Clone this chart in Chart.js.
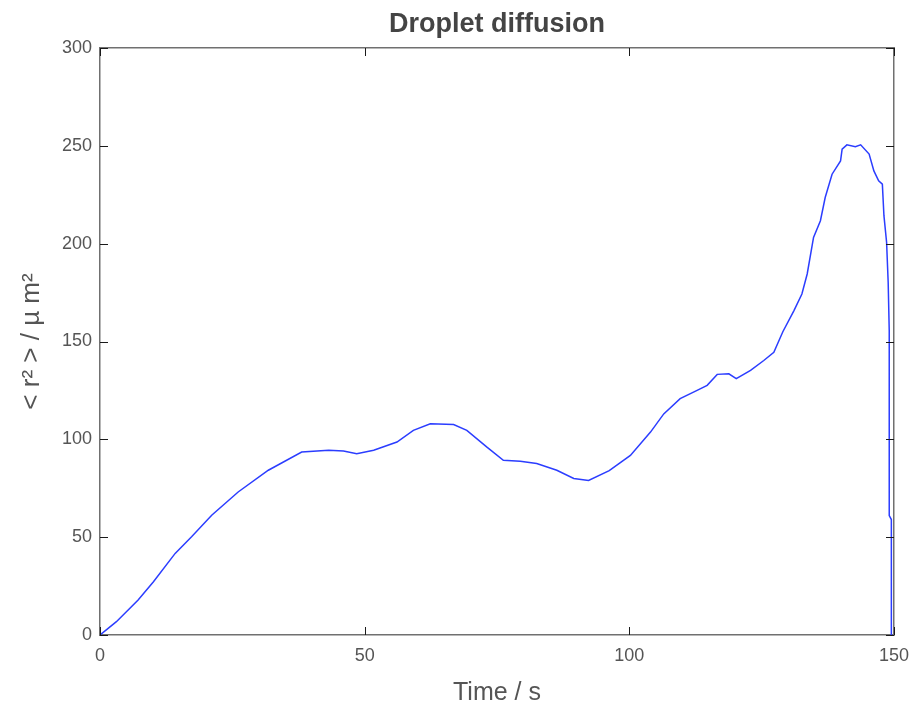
<!DOCTYPE html>
<html>
<head>
<meta charset="utf-8">
<script src="https://cdn.jsdelivr.net/npm/chart.js@4.4.1/dist/chart.umd.min.js"></script>
<style>
  html, body { margin: 0; padding: 0; background: #fff; }
  #wrap { width: 913px; height: 706px; }
</style>
</head>
<body>
<div id="wrap"><canvas id="mainChart" width="913" height="706"></canvas></div>
<script>
// tiempo (s) y desplazamiento cuadratico medio (um^2)
const tiempo = [0, 3.1, 7.2, 10.1, 14.2, 17.3, 21.1, 26.1, 31.8, 38.1, 43.2, 46.0, 48.5, 51.7,
  56.1, 59.2, 62.4, 66.8, 69.3, 73.1, 76.2, 79.4, 82.5, 86.3, 89.5, 92.3, 96.2, 100.2,
  104.0, 106.5, 109.6, 112.8, 114.7, 116.6, 118.8, 120.2, 122.9, 125.4, 127.3, 129.0,
  131.1, 132.6, 133.6, 134.8, 136.1, 137.0, 138.3, 139.9, 140.2, 141.1, 142.7, 143.7,
  145.3, 146.2, 147.1, 147.8, 148.1, 148.6, 148.9, 149.1, 149.1, 149.5, 149.5];
const msd = [0, 6.8, 17.9, 27.2, 41.7, 50.2, 61.2, 73.1, 84.2, 93.5, 94.4, 94.0, 92.7, 94.4,
  98.6, 104.6, 108.0, 107.6, 104.6, 96.0, 89.3, 88.8, 87.6, 84.2, 80.0, 79.0, 84.0, 91.8,
  103.7, 113.0, 120.8, 125.0, 127.6, 133.2, 133.5, 131.0, 135.2, 140.3, 144.5, 155.0,
  165.8, 174.3, 184.5, 203.2, 211.7, 223.6, 235.5, 242.3, 248.3, 250.5, 249.5, 250.5,
  245.8, 237.2, 232.1, 230.4, 214.3, 200.7, 180.3, 155.6, 61, 59, 0];
const xTicks = [0, 50, 100, 150];
const yTicks = [0, 50, 100, 150, 200, 250, 300];

const fuente = "'Liberation Sans', Arial, Helvetica, sans-serif";
const marco = { display: true, color: '#707070', width: 1.5 };
const sinRejilla = { drawOnChartArea: false, drawTicks: false };

// marcas hacia adentro en los cuatro lados, estilo MATLAB
const marcasInternas = {
  id: 'marcasInternas',
  afterDatasetsDraw(chart) {
    const { ctx, chartArea: a, scales } = chart;
    ctx.save();
    ctx.strokeStyle = '#1a1a1a';
    ctx.lineWidth = 1;
    ctx.beginPath();
    xTicks.forEach(v => {
      const px = Math.round(scales.x.getPixelForValue(v)) + 0.5;
      ctx.moveTo(px, a.bottom); ctx.lineTo(px, a.bottom - 8);
      ctx.moveTo(px, a.top); ctx.lineTo(px, a.top + 8);
    });
    yTicks.forEach(v => {
      const py = Math.round(scales.y.getPixelForValue(v)) + 0.5;
      ctx.moveTo(a.left, py); ctx.lineTo(a.left + 8, py);
      ctx.moveTo(a.right, py); ctx.lineTo(a.right - 8, py);
    });
    ctx.stroke();
    ctx.restore();
  }
};

const puntos = tiempo.map((t, i) => ({ x: t, y: msd[i] }));

new Chart(document.getElementById('mainChart').getContext('2d'), {
  type: 'line',
  data: {
    datasets: [{
      data: puntos,
      borderColor: '#2b3dff',
      borderWidth: 1.5,
      pointRadius: 0,
      tension: 0,
      fill: false
    }]
  },
  options: {
    responsive: false,
    animation: false,
    layout: { padding: { left: 12, right: 19, top: 0, bottom: 0 } },
    plugins: { legend: { display: false }, tooltip: { enabled: false } },
    scales: {
      x: {
        type: 'linear', position: 'bottom', min: 0, max: 150,
        afterBuildTicks: s => { s.ticks = xTicks.map(v => ({ value: v })); },
        afterFit: s => { s.height = 71; s.paddingLeft = 0; s.paddingRight = 0; },
        grid: sinRejilla, border: marco,
        ticks: { padding: 10, color: '#555', font: { family: fuente, size: 18 } },
        title: { display: true, text: 'Time / s', color: '#555', padding: 0,
                 font: { family: fuente, size: 25, lineHeight: 1 } }
      },
      x2: {
        type: 'linear', position: 'top', min: 0, max: 150,
        afterFit: s => { s.height = 48; s.paddingLeft = 0; s.paddingRight = 0; },
        grid: sinRejilla, border: marco,
        ticks: { display: false },
        title: { display: true, text: 'Droplet diffusion', color: '#444', padding: { top: 8, bottom: 0 },
                 font: { family: fuente, size: 27, weight: 'bold' } }
      },
      y: {
        type: 'linear', position: 'left', min: 0, max: 300,
        afterBuildTicks: s => { s.ticks = yTicks.map(v => ({ value: v })); },
        afterFit: s => { s.width = 88; s.paddingTop = 0; s.paddingBottom = 0; },
        grid: sinRejilla, border: marco,
        ticks: { padding: 8, color: '#555', font: { family: fuente, size: 18 } },
        title: { display: true, text: '< r\u00B2 > / \u00B5 m\u00B2', color: '#555', padding: { top: 4, bottom: 4 },
                 font: { family: fuente, size: 26 } }
      },
      y2: {
        type: 'linear', position: 'right', min: 0, max: 300,
        afterFit: s => { s.width = 0; },
        grid: sinRejilla, border: marco,
        ticks: { display: false }
      }
    }
  },
  plugins: [marcasInternas]
});
</script>
</body>
</html>
